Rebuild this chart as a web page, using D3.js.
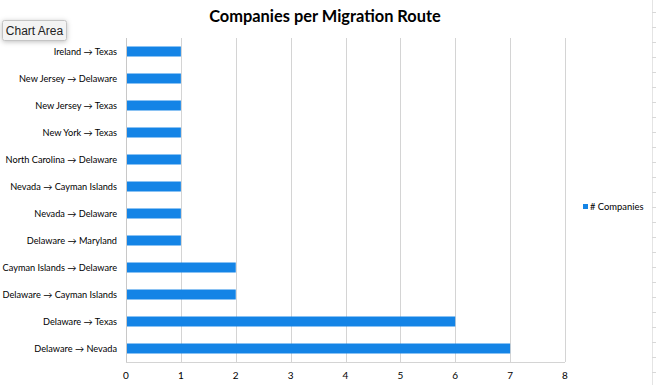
<!DOCTYPE html>
<html>
<head>
<meta charset="utf-8">
<script src="https://cdn.jsdelivr.net/npm/d3@7"></script>
<style>
  body { margin: 0; background: #fff; }
  svg { display: block; }
</style>
</head>
<body>
<svg width="656" height="385"></svg>
<script>
// routes top to bottom, as drawn
const routes = [
  'Ireland → Texas',
  'New Jersey → Delaware',
  'New Jersey → Texas',
  'New York → Texas',
  'North Carolina → Delaware',
  'Nevada → Cayman Islands',
  'Nevada → Delaware',
  'Delaware → Maryland',
  'Cayman Islands → Delaware',
  'Delaware → Cayman Islands',
  'Delaware → Texas',
  'Delaware → Nevada'
];
const companies = [1, 1, 1, 1, 1, 1, 1, 1, 2, 2, 6, 7];
const xTicks = [0, 1, 2, 3, 4, 5, 6, 7, 8];
const seriesName = '# Companies';
const title = 'Companies per Migration Route';

const data = routes.map((r, i) => ({ route: r, value: companies[i] }));

const svg = d3.select('svg');
const font = 'Lato, "Open Sans", sans-serif';
const blue = '#1484e6';

const margin = { top: 38, left: 126, right: 91, bottom: 23 };
const width = 656, height = 385;

const x = d3.scaleLinear()
  .domain([0, 8])
  .range([margin.left, width - margin.right]);

const y = d3.scaleBand()
  .domain(routes)
  .range([margin.top, height - margin.bottom])
  .paddingInner(0.63)
  .paddingOuter(0.315);

// spreadsheet edge on the right
const edge = svg.append('g');
edge.append('line')
  .attr('x1', 652.5).attr('x2', 652.5)
  .attr('y1', 0).attr('y2', height)
  .attr('stroke', '#e4e4e4');
edge.selectAll('.cell')
  .data(d3.range(12, height, 15))
  .enter().append('line')
    .attr('x1', 652).attr('x2', 656)
    .attr('y1', d => d + 0.5).attr('y2', d => d + 0.5)
    .attr('stroke', '#d8d8d8');

// title
svg.append('text')
  .attr('x', 325).attr('y', 22)
  .attr('text-anchor', 'middle')
  .attr('font-family', font)
  .attr('font-weight', 'bold')
  .attr('font-size', 16.4)
  .attr('fill', '#000')
  .text(title);

// gridlines
svg.append('g')
  .selectAll('line')
  .data(xTicks.slice(1))
  .enter().append('line')
    .attr('x1', d => Math.round(x(d)) + 0.5)
    .attr('x2', d => Math.round(x(d)) + 0.5)
    .attr('y1', margin.top)
    .attr('y2', height - margin.bottom)
    .attr('stroke', '#d4d4d4');

// axis lines
svg.append('line')
  .attr('x1', Math.round(x(0)) + 0.5).attr('x2', Math.round(x(0)) + 0.5)
  .attr('y1', margin.top).attr('y2', height - margin.bottom)
  .attr('stroke', '#c8c8c8');
svg.append('line')
  .attr('x1', x(0)).attr('x2', x(8))
  .attr('y1', height - margin.bottom + 0.5).attr('y2', height - margin.bottom + 0.5)
  .attr('stroke', '#d4d4d4');

// bars
svg.append('g')
  .selectAll('rect')
  .data(data)
  .enter().append('rect')
    .attr('x', x(0) + 1)
    .attr('y', d => y(d.route))
    .attr('width', d => x(d.value) - x(0) - 1)
    .attr('height', y.bandwidth())
    .attr('fill', blue);

// category labels
svg.append('g')
  .selectAll('text')
  .data(data)
  .enter().append('text')
    .attr('x', margin.left - 9)
    .attr('y', d => y(d.route) + y.bandwidth() / 2)
    .attr('dy', '0.35em')
    .attr('text-anchor', 'end')
    .attr('font-family', font)
    .attr('font-size', 9.2)
    .attr('fill', '#000')
    .text(d => d.route);

// x tick labels
svg.append('g')
  .selectAll('text')
  .data(xTicks)
  .enter().append('text')
    .attr('x', d => x(d))
    .attr('y', 379)
    .attr('text-anchor', 'middle')
    .attr('font-family', font)
    .attr('font-size', 10)
    .attr('fill', '#000')
    .text(d => d);

// legend
const legend = svg.append('g').attr('transform', 'translate(583,207)');
legend.append('rect')
  .attr('x', 0).attr('y', -3)
  .attr('width', 5).attr('height', 5)
  .attr('fill', blue);
legend.append('text')
  .attr('x', 7).attr('y', 0)
  .attr('dy', '0.35em')
  .attr('font-family', font)
  .attr('font-size', 9.4)
  .attr('fill', '#000')
  .text(seriesName);

// "Chart Area" tooltip
const defs = svg.append('defs');
const shadow = defs.append('filter').attr('id', 'sh')
  .attr('x', '-30%').attr('y', '-50%').attr('width', '160%').attr('height', '200%');
shadow.append('feDropShadow')
  .attr('dx', 0).attr('dy', 1).attr('stdDeviation', 2.5)
  .attr('flood-color', '#000').attr('flood-opacity', 0.25);

const tip = svg.append('g');
tip.append('rect')
  .attr('x', 2.5).attr('y', 20.5)
  .attr('width', 64).attr('height', 20)
  .attr('rx', 2)
  .attr('fill', '#f3f3f3')
  .attr('stroke', '#c4c4c4')
  .attr('filter', 'url(#sh)');
tip.append('text')
  .attr('x', 34.5).attr('y', 31)
  .attr('dy', '0.35em')
  .attr('text-anchor', 'middle')
  .attr('font-family', '"Liberation Sans", Arial, sans-serif')
  .attr('font-size', 12)
  .attr('fill', '#222')
  .text('Chart Area');
</script>
</body>
</html>
